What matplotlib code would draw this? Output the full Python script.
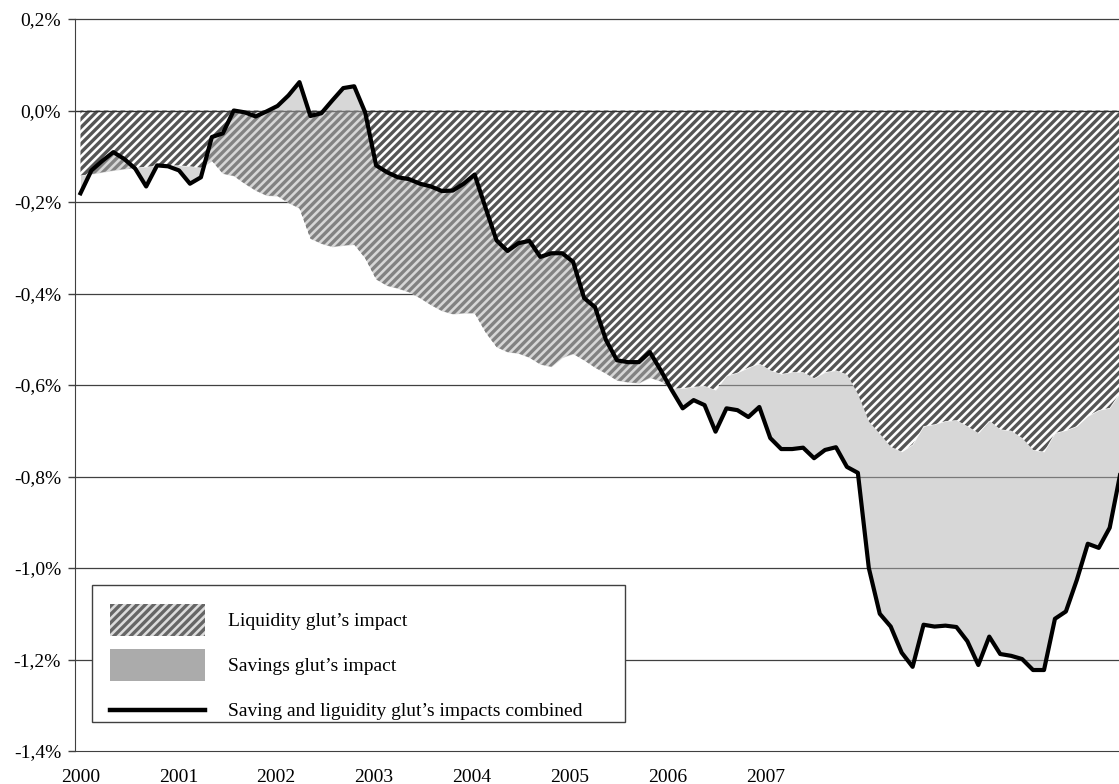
import numpy as np
import matplotlib
matplotlib.use("Agg")
import matplotlib.pyplot as plt
from matplotlib.patches import Patch, Rectangle
from matplotlib.lines import Line2D
from matplotlib.legend_handler import HandlerLine2D

# combined impact (black line), in %
combined = [
    -0.181, -0.131, -0.110, -0.091, -0.106, -0.127, -0.166, -0.120, -0.122, -0.131,
    -0.160, -0.146, -0.058, -0.050, 0.000, -0.004, -0.013, -0.002, 0.010, 0.033,
    0.062, -0.012, -0.006, 0.022, 0.049, 0.053, -0.004, -0.120, -0.135, -0.146,
    -0.150, -0.160, -0.166, -0.176, -0.175, -0.160, -0.140, -0.213, -0.284, -0.307,
    -0.290, -0.285, -0.320, -0.312, -0.312, -0.331, -0.410, -0.430, -0.502, -0.546,
    -0.550, -0.550, -0.528, -0.568, -0.611, -0.651, -0.633, -0.644, -0.702, -0.651,
    -0.655, -0.670, -0.648, -0.716, -0.740, -0.740, -0.737, -0.760, -0.742, -0.736,
    -0.779, -0.792, -1.000, -1.100, -1.128, -1.185, -1.216, -1.124, -1.128, -1.126,
    -1.129, -1.160, -1.212, -1.150, -1.188, -1.192, -1.199, -1.223, -1.223, -1.111,
    -1.095, -1.026, -0.947, -0.956, -0.912, -0.790,
]

# liquidity glut's impact (hatched area), in %
liquidity = [
    -0.142, -0.139, -0.135, -0.131, -0.128, -0.125, -0.123, -0.121, -0.120, -0.120,
    -0.122, -0.125, -0.110, -0.138, -0.143, -0.160, -0.175, -0.186, -0.187, -0.202,
    -0.214, -0.280, -0.291, -0.298, -0.295, -0.293, -0.323, -0.369, -0.383, -0.389,
    -0.397, -0.410, -0.425, -0.438, -0.445, -0.443, -0.443, -0.485, -0.517, -0.528,
    -0.531, -0.540, -0.555, -0.560, -0.540, -0.532, -0.546, -0.562, -0.575, -0.590,
    -0.594, -0.596, -0.584, -0.592, -0.608, -0.607, -0.604, -0.602, -0.611, -0.580,
    -0.573, -0.562, -0.553, -0.568, -0.576, -0.572, -0.572, -0.585, -0.572, -0.568,
    -0.577, -0.620, -0.680, -0.707, -0.735, -0.746, -0.730, -0.690, -0.686, -0.679,
    -0.677, -0.690, -0.705, -0.678, -0.697, -0.700, -0.716, -0.742, -0.746, -0.705,
    -0.699, -0.690, -0.668, -0.655, -0.650, -0.615,
]

year_labels = ["2000", "2001", "2002", "2003", "2004", "2005", "2006", "2007"]
y_ticks = [-1.4, -1.2, -1.0, -0.8, -0.6, -0.4, -0.2, 0.0, 0.2]
y_labels = ["-1,4%", "-1,2%", "-1,0%", "-0,8%", "-0,6%", "-0,4%", "-0,2%", "0,0%", "0,2%"]

plt.rcParams["font.family"] = ["Liberation Serif", "DejaVu Serif"]
plt.rcParams["font.size"] = 14
plt.rcParams["hatch.linewidth"] = 2.4

x = np.arange(len(combined))
comb = np.array(combined)
liq = np.array(liquidity)

fig = plt.figure(figsize=(11.19, 7.84), dpi=100)
ax = fig.add_axes([75 / 1119, 33 / 784, 1044 / 1119, 732 / 784])

# gridlines under the areas
for yv in y_ticks[1:]:
    if yv == 0.0:
        continue
    ax.axhline(yv, color="#404040", lw=0.9, zorder=1, clip_on=False)

ax.fill_between(x, 0, liq, facecolor="white", edgecolor="#555555",
                hatch="////", linewidth=0, zorder=2)
ax.axhline(0.0, color="#303030", lw=1.0, zorder=2.5)
ax.fill_between(x, liq, comb, color="#b0b0b0", alpha=0.5, linewidth=0, zorder=3)
ax.plot(x, comb, color="black", lw=3.0, solid_joinstyle="round", zorder=4)

ax.set_xlim(-0.5, 94.85)
ax.set_ylim(-1.4, 0.2)

ax.set_yticks(y_ticks)
ax.set_yticklabels(y_labels)
ax.set_xticks(np.arange(len(year_labels)) * 8.94)
ax.set_xticklabels(year_labels)
ax.tick_params(axis="y", length=5, width=1, color="#404040", pad=5)
ax.tick_params(axis="x", length=0, pad=13)

for s in ["top", "right"]:
    ax.spines[s].set_visible(False)
ax.spines["left"].set_color("#404040")
ax.spines["bottom"].set_color("#404040")

# legend frame drawn separately so padding matches the original
frame = Rectangle((17 / 1044, 29 / 732), 533 / 1044, 137 / 732,
                  transform=ax.transAxes, facecolor="white",
                  edgecolor="#404040", lw=1.0, zorder=5)
ax.add_patch(frame)


def line_down(legend_line, orig):
    # sit the legend line level with its label
    legend_line.update_from(orig)
    legend_line.set_ydata(np.asarray(legend_line.get_ydata()) - 3.6)


fs = 14 * 100 / 72
line_handle = Line2D([0], [0], color="black", lw=3.2)
handles = [
    Patch(facecolor="#dcdcdc", edgecolor="#666666", hatch="////", linewidth=0),
    Patch(facecolor="#ababab", linewidth=0),
    line_handle,
]
labels = [
    "Liquidity glut\u2019s impact",
    "Savings glut\u2019s impact",
    "Saving and liguidity glut\u2019s impacts combined",
]
leg = ax.legend(handles, labels, loc="upper left",
                bbox_to_anchor=(35 / 1044, 147 / 732),
                frameon=False, borderpad=0, borderaxespad=0,
                handlelength=95 / fs, handleheight=(32 / fs - 0.245) / 0.65,
                handletextpad=23 / fs, labelspacing=13 / fs,
                handler_map={line_handle: HandlerLine2D(update_func=line_down)})
leg.set_zorder(6)

fig.savefig("out.png", dpi=100)
